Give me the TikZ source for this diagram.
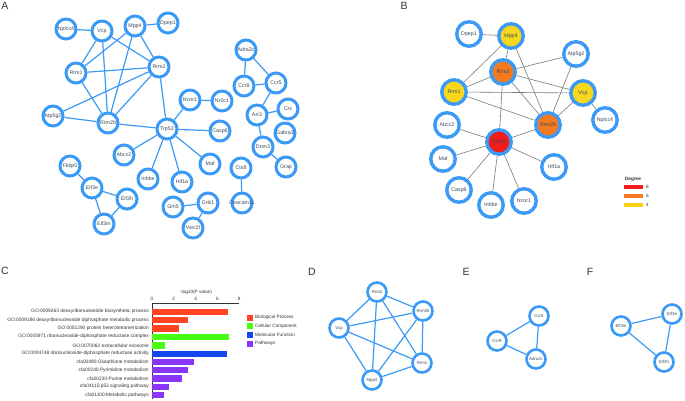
\documentclass[tikz,border=0pt]{standalone}
\usepackage{fontspec}
\setmainfont{Liberation Sans}
\usetikzlibrary{backgrounds}
\definecolor{azulred}{HTML}{3B9AF5}
\definecolor{textored}{HTML}{3A4A5C}
\definecolor{grisarista}{HTML}{7A7A7A}
\definecolor{rojogrado}{HTML}{F21C1C}
\definecolor{naranjagrado}{HTML}{F47A22}
\definecolor{amarillogrado}{HTML}{F9D71C}
\definecolor{colBP}{HTML}{FF4424}
\definecolor{colCC}{HTML}{47FF12}
\definecolor{colMF}{HTML}{1246F0}
\definecolor{colVia}{HTML}{8A36FA}
\colorlet{colTexto}{black!80}
\tikzset{
  nodoBase/.style={circle, draw=azulred, fill=white, inner sep=-4pt,
    align=center, text=textored, font=\fontsize{5.3}{6}\selectfont},
  nodoA/.style={nodoBase, line width=3pt, minimum size=20pt},
  nodoB/.style={nodoBase, line width=3.4pt, minimum size=24.5pt},
  nodoD/.style={nodoBase, line width=2.6pt, minimum size=19pt,
    font=\fontsize{4.3}{5}\selectfont},
  gradoAlto/.style={nodoB, fill=rojogrado},
  gradoMedio/.style={nodoB, fill=naranjagrado},
  gradoBajo/.style={nodoB, fill=amarillogrado},
  arista/.style={draw=azulred, line width=1.2pt},
  aristaGris/.style={draw=grisarista, line width=0.6pt},
  etiquetaPanel/.style={font=\fontsize{10.5}{12}\selectfont, text=colTexto, inner sep=0pt},
  etiquetaTermino/.style={anchor=east, inner sep=0pt, text=colTexto,
    font=\fontsize{4.85}{5}\selectfont},
  etiquetaEje/.style={inner sep=0pt, text=colTexto, font=\fontsize{4.7}{5}\selectfont},
}
\begin{document}
\begin{tikzpicture}[x=1pt, y=-1pt]
  \useasboundingbox (0,0) rectangle (685,401);

  % panel A
  \node[etiquetaPanel] (letraA) at (5,6) {A};
  \node[nodoA] (aNplcc4) at (66,29) {Nplcc4};
  \node[nodoA] (aVcp) at (102,31) {Vcp};
  \node[nodoA] (aMpp4) at (135,26) {Mpp4};
  \node[nodoA] (aDpep1) at (168,23) {Dpep1};
  \node[nodoA] (aRrm1) at (76,73) {Rrm1};
  \node[nodoA] (aRrm2) at (159,67) {Rrm2};
  \node[nodoA] (aAtp5g2) at (53,116) {Atp5g2};
  \node[nodoA] (aRrm2b) at (108,123) {Rrm2b};
  \node[nodoA] (aTrp53) at (167,129) {Trp53};
  \node[nodoA] (aAdra2c) at (246,50) {Adra2c};
  \node[nodoA] (aCcr9) at (244,86) {Ccr9};
  \node[nodoA] (aCcr5) at (276,83) {Ccr5};
  \node[nodoA] (aNcor1) at (190,100) {Ncor1};
  \node[nodoA] (aNr2c1) at (222,101) {Nr2c1};
  \node[nodoA] (aCasp6) at (220,131) {Casp6};
  \node[nodoA] (aArr3) at (257,115) {Arr3};
  \node[nodoA] (aCrx) at (288,109) {Crx};
  \node[nodoA] (aGabra3) at (285,133) {Gabra3};
  \node[nodoA] (aDnm3) at (263,147) {Dnm3};
  \node[nodoA] (aGrap) at (286,167) {Grap};
  \node[nodoA] (aMaf) at (210,164) {Maf};
  \node[nodoA] (aCts8) at (241,168) {Cts8};
  \node[nodoA] (aCeacam11) at (242,203) {Ceacam11};
  \node[nodoA] (aHif1a) at (182,182) {Hif1a};
  \node[nodoA] (aAbcc2) at (124,155) {Abcc2};
  \node[nodoA] (aInhbe) at (148,179) {Inhbe};
  \node[nodoA] (aGm5) at (173,207) {Gm5};
  \node[nodoA] (aGrik1) at (208,203) {Grik1};
  \node[nodoA] (aVwc2l) at (193,228) {Vwc2l};
  \node[nodoA] (aFkbp5) at (70,166) {Fkbp5};
  \node[nodoA] (aEif3e) at (92,188) {Eif3e};
  \node[nodoA] (aEif3h) at (127,199) {Eif3h};
  \node[nodoA] (aEif3m) at (104,224) {Eif3m};
  \begin{scope}[on background layer]
    \draw[arista] (aNplcc4) -- (aVcp);
    \draw[arista] (aMpp4) -- (aDpep1);
    \draw[arista] (aVcp) -- (aRrm1);
    \draw[arista] (aVcp) -- (aRrm2);
    \draw[arista] (aVcp) -- (aRrm2b);
    \draw[arista] (aMpp4) -- (aRrm1);
    \draw[arista] (aMpp4) -- (aRrm2);
    \draw[arista] (aMpp4) -- (aRrm2b);
    \draw[arista] (aRrm1) -- (aRrm2);
    \draw[arista] (aRrm1) -- (aRrm2b);
    \draw[arista] (aRrm2) -- (aAtp5g2);
    \draw[arista] (aRrm2) -- (aRrm2b);
    \draw[arista] (aRrm2) -- (aTrp53);
    \draw[arista] (aAtp5g2) -- (aRrm2b);
    \draw[arista] (aRrm2b) -- (aTrp53);
    \draw[arista] (aTrp53) -- (aAbcc2);
    \draw[arista] (aTrp53) -- (aInhbe);
    \draw[arista] (aTrp53) -- (aHif1a);
    \draw[arista] (aTrp53) -- (aMaf);
    \draw[arista] (aTrp53) -- (aCasp6);
    \draw[arista] (aTrp53) -- (aNcor1);
    \draw[arista] (aNcor1) -- (aNr2c1);
    \draw[arista] (aAdra2c) -- (aCcr9);
    \draw[arista] (aAdra2c) -- (aCcr5);
    \draw[arista] (aCcr9) -- (aCcr5);
    \draw[arista] (aCcr5) -- (aArr3);
    \draw[arista] (aArr3) -- (aCrx);
    \draw[arista] (aArr3) -- (aDnm3);
    \draw[arista] (aDnm3) -- (aGrap);
    \draw[arista] (aCts8) -- (aCeacam11);
    \draw[arista] (aGm5) -- (aGrik1);
    \draw[arista] (aGrik1) -- (aVwc2l);
    \draw[arista] (aFkbp5) -- (aEif3e);
    \draw[arista] (aEif3e) -- (aEif3h);
    \draw[arista] (aEif3e) -- (aEif3m);
    \draw[arista] (aEif3h) -- (aEif3m);
  \end{scope}

  % panel B
  \node[etiquetaPanel] (letraB) at (404,6) {B};
  \node[nodoB] (bDpep1) at (469,34) {Dpep1};
  \node[gradoBajo] (bMpp4) at (511,36) {Mpp4};
  \node[nodoB] (bAtp5g2) at (576,54) {Atp5g2};
  \node[gradoMedio] (bRrm2) at (503,72) {Rrm2};
  \node[gradoBajo] (bRrm1) at (454,92) {Rrm1};
  \node[gradoBajo] (bVcp) at (583,93) {Vcp};
  \node[nodoB] (bNplcc4) at (605,120) {Nplcc4};
  \node[nodoB] (bAbcc2) at (447,125) {Abcc2};
  \node[gradoMedio] (bRrm2b) at (548,125) {Rrm2b};
  \node[gradoAlto] (bTrp53) at (499,142) {Trp53};
  \node[nodoB] (bMaf) at (443,159) {Maf};
  \node[nodoB] (bHif1a) at (554,167) {Hif1a};
  \node[nodoB] (bCasp6) at (459,190) {Casp6};
  \node[nodoB] (bInhbe) at (491,205) {Inhbe};
  \node[nodoB] (bNcor1) at (524,201) {Ncor1};
  \begin{scope}[on background layer]
    \draw[aristaGris] (bDpep1) -- (bMpp4);
    \draw[aristaGris] (bMpp4) -- (bRrm1);
    \draw[aristaGris] (bMpp4) -- (bRrm2);
    \draw[aristaGris] (bMpp4) -- (bRrm2b);
    \draw[aristaGris] (bRrm2) -- (bRrm1);
    \draw[aristaGris] (bRrm2) -- (bAtp5g2);
    \draw[aristaGris] (bRrm2) -- (bVcp);
    \draw[aristaGris] (bRrm2) -- (bRrm2b);
    \draw[aristaGris] (bRrm2) -- (bTrp53);
    \draw[aristaGris] (bRrm1) -- (bVcp);
    \draw[aristaGris] (bRrm1) -- (bRrm2b);
    \draw[aristaGris] (bAtp5g2) -- (bRrm2b);
    \draw[aristaGris] (bVcp) -- (bRrm2b);
    \draw[aristaGris] (bVcp) -- (bNplcc4);
    \draw[aristaGris] (bTrp53) -- (bRrm2b);
    \draw[aristaGris] (bTrp53) -- (bAbcc2);
    \draw[aristaGris] (bTrp53) -- (bMaf);
    \draw[aristaGris] (bTrp53) -- (bCasp6);
    \draw[aristaGris] (bTrp53) -- (bInhbe);
    \draw[aristaGris] (bTrp53) -- (bNcor1);
    \draw[aristaGris] (bTrp53) -- (bHif1a);
  \end{scope}
  % leyenda de grado
  \node[etiquetaEje, font=\bfseries\fontsize{4.7}{5}\selectfont] (tituloGrado) at (633,179) {Degree};
  \fill[rojogrado] (624,185.3) rectangle (643,188.7);
  \fill[naranjagrado] (624,194.3) rectangle (643,197.7);
  \fill[amarillogrado!90!orange] (624,203.3) rectangle (643,206.7);
  \node[etiquetaEje, anchor=west] (grado8) at (646,187) {8};
  \node[etiquetaEje, anchor=west] (grado6) at (646,196) {6};
  \node[etiquetaEje, anchor=west] (grado4) at (646,205) {4};

  % panel C
  \node[etiquetaPanel] (letraC) at (5,271) {C};
  \node[etiquetaEje] (tituloEje) at (196,292) {-log10(P value)};
  \draw[colTexto, line width=0.5pt] (152,303) -- (239,303);
  \draw[colTexto, line width=0.5pt] (152,303) -- (152,399);
  \node[etiquetaEje] (eje0) at (152,299) {0};
  \node[etiquetaEje] (eje2) at (173.8,299) {2};
  \node[etiquetaEje] (eje4) at (195.6,299) {4};
  \node[etiquetaEje] (eje6) at (217.4,299) {6};
  \node[etiquetaEje] (eje8) at (239.2,299) {8};
  \fill[colBP] (152.3,308.5) rectangle (228.3,314.9);
  \fill[colBP] (152.3,316.8) rectangle (188.3,323.2);
  \fill[colBP] (152.3,325.1) rectangle (179.3,331.5);
  \fill[colCC] (152.3,333.5) rectangle (229.3,339.9);
  \fill[colCC] (152.3,342.1) rectangle (165.3,348.5);
  \fill[colMF] (152.3,350.5) rectangle (227.3,356.9);
  \fill[colVia] (152.3,358.5) rectangle (193.7,364.9);
  \fill[colVia] (152.3,366.8) rectangle (187.7,373.2);
  \fill[colVia] (152.3,375.1) rectangle (182.0,381.5);
  \fill[colVia] (152.3,383.5) rectangle (169.0,389.9);
  \fill[colVia] (152.3,391.8) rectangle (164.0,398.2);
  \node[etiquetaTermino] (t1) at (149,311.7) {GO:0009263 deoxyribonucleotide biosynthetic process};
  \node[etiquetaTermino] (t2) at (149,320.0) {GO:0009186 deoxyribonucleoside diphosphate metabolic process};
  \node[etiquetaTermino] (t3) at (149,328.3) {GO:0051290 protein heterotetramerization};
  \node[etiquetaTermino] (t4) at (149,336.7) {GO:0005971 ribonucleoside-diphosphate reductase complex};
  \node[etiquetaTermino] (t5) at (149,345.3) {GO:0070062 extracellular exosome};
  \node[etiquetaTermino] (t6) at (149,353.7) {GO:0004748 ribonucleoside-diphosphate reductase activity};
  \node[etiquetaTermino] (t7) at (149,361.7) {cfa00480:Glutathione metabolism};
  \node[etiquetaTermino] (t8) at (149,370.0) {cfa00240:Pyrimidine metabolism};
  \node[etiquetaTermino] (t9) at (149,378.3) {cfa00230:Purine metabolism};
  \node[etiquetaTermino] (t10) at (149,386.7) {cfa04115:p53 signaling pathway};
  \node[etiquetaTermino] (t11) at (149,395.0) {cfa01100:Metabolic pathways};
  % leyenda de categorias
  \fill[colBP] (246.7,314.7) rectangle (252.7,320.7);
  \fill[colCC] (246.7,323.3) rectangle (252.7,329.3);
  \fill[colMF] (246.7,332.0) rectangle (252.7,338.0);
  \fill[colVia] (246.7,340.7) rectangle (252.7,346.7);
  \node[etiquetaEje, anchor=west] (catBP) at (255,317.7) {Biological Process};
  \node[etiquetaEje, anchor=west] (catCC) at (255,326.3) {Cellular Component};
  \node[etiquetaEje, anchor=west] (catMF) at (255,335.0) {Molecular Function};
  \node[etiquetaEje, anchor=west] (catVia) at (255,343.7) {Pathways};

  % panel D
  \node[etiquetaPanel] (letraD) at (312,272) {D};
  \node[nodoD] (dRrm2) at (377,292) {Rrm2};
  \node[nodoD] (dRrm2b) at (423,311) {Rrm2b};
  \node[nodoD] (dVcp) at (339,328) {Vcp};
  \node[nodoD] (dRrm1) at (422,363) {Rrm1};
  \node[nodoD] (dMpp4) at (372,380) {Mpp4};
  \begin{scope}[on background layer]
    \draw[arista] (dVcp) -- (dRrm2);
    \draw[arista] (dVcp) -- (dRrm2b);
    \draw[arista] (dVcp) -- (dRrm1);
    \draw[arista] (dVcp) -- (dMpp4);
    \draw[arista] (dRrm2) -- (dRrm2b);
    \draw[arista] (dRrm2) -- (dRrm1);
    \draw[arista] (dRrm2) -- (dMpp4);
    \draw[arista] (dRrm2b) -- (dRrm1);
    \draw[arista] (dRrm2b) -- (dMpp4);
    \draw[arista] (dRrm1) -- (dMpp4);
  \end{scope}

  % panel E
  \node[etiquetaPanel] (letraE) at (466,272) {E};
  \node[nodoD] (eCcr9) at (497,341) {Ccr9};
  \node[nodoD] (eCcr5) at (539,316) {Ccr5};
  \node[nodoD] (eAdra2c) at (536,359) {Adra2c};
  \begin{scope}[on background layer]
    \draw[arista] (eCcr9) -- (eCcr5);
    \draw[arista] (eCcr9) -- (eAdra2c);
    \draw[arista] (eCcr5) -- (eAdra2c);
  \end{scope}

  % panel F
  \node[etiquetaPanel] (letraF) at (590,272) {F};
  \node[nodoD] (fEif3m) at (621,326) {Eif3m};
  \node[nodoD] (fEif3e) at (672,314) {Eif3e};
  \node[nodoD] (fEif3h) at (664,362) {Eif3h};
  \begin{scope}[on background layer]
    \draw[arista] (fEif3m) -- (fEif3e);
    \draw[arista] (fEif3m) -- (fEif3h);
    \draw[arista] (fEif3e) -- (fEif3h);
  \end{scope}
\end{tikzpicture}
\end{document}
